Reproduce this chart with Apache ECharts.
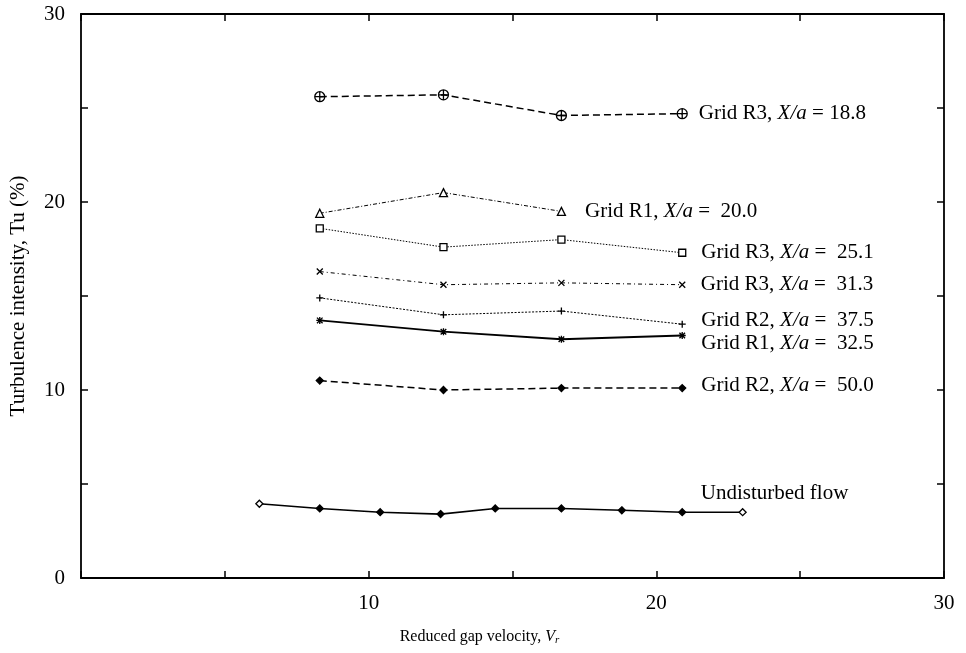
<!DOCTYPE html>
<html>
<head>
    <meta charset="UTF-8">
    <title>Turbulence intensity vs reduced gap velocity</title>
    <script src="https://cdn.jsdelivr.net/npm/echarts/dist/echarts.min.js"></script>
</head>
<body style="margin:0">
    <div id="chart" style="width: 966px;height:653px;"></div>
    <script type="text/javascript">
        // Reduced gap velocity positions of the grid measurements
        var gridVr = [8.3, 12.6, 16.7, 20.9];
        var undisturbedVr = [6.2, 8.3, 10.4, 12.5, 14.4, 16.7, 18.8, 20.9, 23.0];

        // Turbulence intensity (%)
        var r3_188 = [25.6, 25.7, 24.6, 24.7];
        var r1_200 = [19.4, 20.5, 19.5];
        var r3_251 = [18.6, 17.6, 18.0, 17.3];
        var r3_313 = [16.3, 15.6, 15.7, 15.6];
        var r2_375 = [14.9, 14.0, 14.2, 13.5];
        var r1_325 = [13.7, 13.1, 12.7, 12.9];
        var r2_500 = [10.5, 10.0, 10.1, 10.1];
        var undisturbed = [3.95, 3.7, 3.5, 3.4, 3.7, 3.7, 3.6, 3.5, 3.5];

        var serif = '"Liberation Serif", "DejaVu Serif", serif';
        var fs = 21;

        var myChart = echarts.init(document.getElementById('chart'));

        // pair x with y; put the text label on the last point
        function makeData(xs, ys, label, hollowEnds) {
            return ys.map(function (y, i) {
                var item = { value: [xs[i], y] };
                if (hollowEnds && (i === 0 || i === ys.length - 1)) {
                    item.itemStyle = { color: '#fff' };
                }
                if (label && i === ys.length - 1) {
                    item.label = label;
                }
                return item;
            });
        }

        function gridLabel(text, dist, offset) {
            return {
                show: true,
                position: 'right',
                distance: dist,
                offset: offset || [0, 0],
                formatter: text,
                color: '#000',
                fontFamily: serif,
                fontSize: fs,
                rich: {
                    i: { fontStyle: 'italic', fontFamily: serif, fontSize: fs, color: '#000' }
                }
            };
        }

        function line(name, data, symbol, size, fill, lineStyle) {
            return {
                name: name,
                type: 'line',
                data: data,
                symbol: symbol,
                symbolSize: size,
                showAllSymbol: true,
                itemStyle: { color: fill, borderColor: '#000', borderWidth: 1.3 },
                lineStyle: Object.assign({ color: '#000' }, lineStyle),
                emphasis: { disabled: true },
                z: 3
            };
        }

        var circlePlus = 'path://M0,-10A10,10 0 1,1 0,10A10,10 0 1,1 0,-10ZM-10,0L10,0M0,-10L0,10';
        var cross = 'path://M-10,-10L10,10M-10,10L10,-10';
        var plus = 'path://M-10,0L10,0M0,-10L0,10';
        var star = 'path://M-8,-8L8,8M-8,8L8,-8M-10,0L10,0M0,-10L0,10';

        var axisCommon = {
            type: 'value',
            min: 0,
            max: 30,
            interval: 5,
            axisLine: { show: true, onZero: false, lineStyle: { color: '#000', width: 1.8 } },
            axisTick: { show: true, inside: true, length: 7, lineStyle: { color: '#000', width: 1.5 } },
            splitLine: { show: false }
        };

        var option = {
            animation: false,
            backgroundColor: '#fff',
            grid: { left: 79, right: 22, top: 14, bottom: 75 },
            xAxis: [
                Object.assign({}, axisCommon, {
                    position: 'bottom',
                    name: 'Reduced gap velocity, {i|V}{s|r}',
                    nameLocation: 'middle',
                    nameGap: 50,
                    nameTextStyle: {
                        color: '#000', fontFamily: serif, fontSize: 16,
                        padding: [0, 66, 0, 0],
                        rich: {
                            i: { fontStyle: 'italic', fontFamily: serif, fontSize: 16, color: '#000' },
                            s: { fontStyle: 'italic', fontFamily: serif, fontSize: 11, color: '#000', padding: [7, 0, 0, 0] }
                        }
                    },
                    axisLabel: {
                        margin: 15,
                        color: '#000',
                        fontFamily: serif,
                        fontSize: fs,
                        formatter: function (v) { return (v > 0 && v % 10 === 0) ? String(v) : ''; }
                    }
                }),
                Object.assign({}, axisCommon, {
                    position: 'top',
                    axisLabel: { show: false }
                })
            ],
            yAxis: [
                Object.assign({}, axisCommon, {
                    position: 'left',
                    name: 'Turbulence intensity, Tu (%)',
                    nameLocation: 'middle',
                    nameGap: 52,
                    nameTextStyle: { color: '#000', fontFamily: serif, fontSize: 21 },
                    axisLabel: {
                        margin: 16,
                        color: '#000',
                        fontFamily: serif,
                        fontSize: fs,
                        formatter: function (v) { return v % 10 === 0 ? String(v) : ''; }
                    }
                }),
                Object.assign({}, axisCommon, {
                    position: 'right',
                    axisLabel: { show: false }
                })
            ],
            series: [
                line('Grid R3, X/a = 18.8',
                    makeData(gridVr, r3_188, gridLabel('Grid R3, {i|X/a} = 18.8', 11)),
                    circlePlus, 10, 'rgba(255,255,255,0)', { width: 1.5, type: [7, 4] }),
                line('Grid R1, X/a = 20.0',
                    makeData(gridVr, r1_200, gridLabel('Grid R1, {i|X/a} =  20.0', 19)),
                    'triangle', 8, '#fff', { width: 1, type: [4, 2, 1, 2] }),
                line('Grid R3, X/a = 25.1',
                    makeData(gridVr, r3_251, gridLabel('Grid R3, {i|X/a} =  25.1', 15)),
                    'rect', 7, '#fff', { width: 1, type: [1.5, 1.5] }),
                line('Grid R3, X/a = 31.3',
                    makeData(gridVr, r3_313, gridLabel('Grid R3, {i|X/a} =  31.3', 15)),
                    cross, 6, 'rgba(255,255,255,0)', { width: 1, type: [4, 3, 1, 3] }),
                line('Grid R2, X/a = 37.5',
                    makeData(gridVr, r2_375, gridLabel('Grid R2, {i|X/a} =  37.5', 15, [0, -4])),
                    plus, 7, 'rgba(255,255,255,0)', { width: 1, type: [2, 1.5] }),
                line('Grid R1, X/a = 32.5',
                    makeData(gridVr, r1_325, gridLabel('Grid R1, {i|X/a} =  32.5', 15, [0, 8])),
                    star, 7, 'rgba(255,255,255,0)', { width: 1.8, type: 'solid' }),
                line('Grid R2, X/a = 50.0',
                    makeData(gridVr, r2_500, gridLabel('Grid R2, {i|X/a} =  50.0', 15, [0, -3])),
                    'diamond', 7, '#000', { width: 1.5, type: [7, 4] }),
                line('Undisturbed flow',
                    makeData(undisturbedVr, undisturbed, gridLabel('Undisturbed flow', 5, [-51, -19]), true),
                    'diamond', 7, '#000', { width: 1.6, type: 'solid' })
            ]
        };

        myChart.setOption(option);
    </script>
</body>
</html>
